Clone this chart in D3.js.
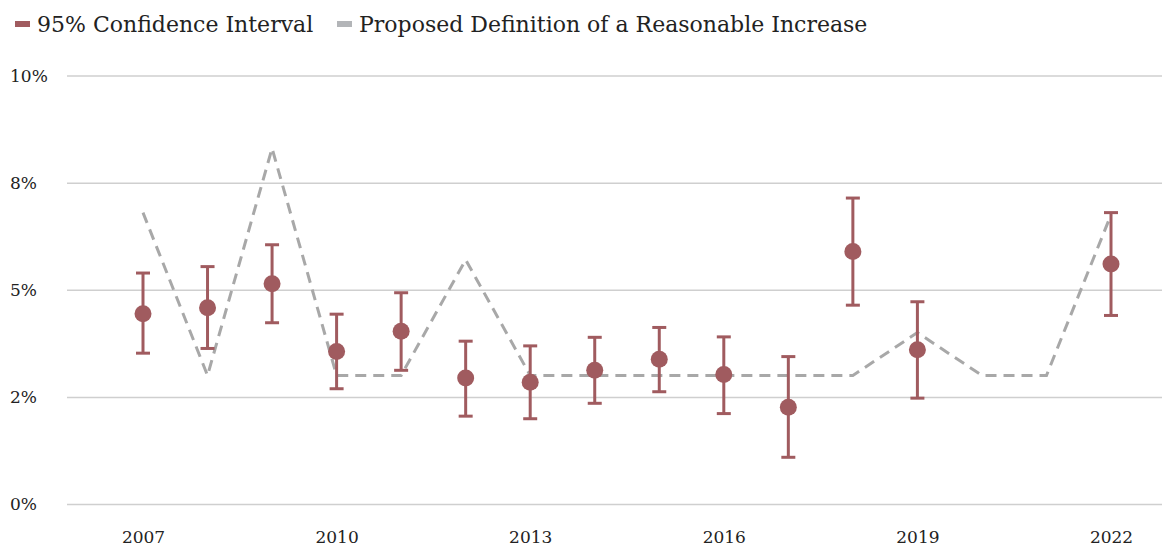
<!DOCTYPE html>
<html>
<head>
<meta charset="utf-8">
<script src="https://cdn.jsdelivr.net/npm/d3@7"></script>
<style>
  html, body { margin: 0; padding: 0; background: #fff; }
  svg { display: block; }
  text { font-family: "DejaVu Serif", serif; fill: #222; }
</style>
</head>
<body>
<svg id="chart" width="1162" height="548"></svg>
<script>
// Survey years
const years = [2007, 2008, 2009, 2010, 2011, 2012, 2013, 2014, 2015, 2016, 2017, 2018, 2019, 2020, 2021, 2022];
// Point estimate and 95% confidence bounds (percent); null where no estimate
const estimate = [4.44, 4.58, 5.14, 3.56, 4.03, 2.94, 2.84, 3.12, 3.38, 3.02, 2.26, 5.89, 3.60, null, null, 5.60];
const lower    = [3.52, 3.63, 4.23, 2.69, 3.12, 2.05, 1.99, 2.35, 2.62, 2.11, 1.09, 4.64, 2.47, null, null, 4.40];
const upper    = [5.39, 5.54, 6.05, 4.43, 4.93, 3.80, 3.69, 3.89, 4.12, 3.90, 3.44, 7.14, 4.72, null, null, 6.80];
// Proposed definition of a reasonable increase (percent)
const proposed = [6.8, 3.0, 8.3, 3.0, 3.0, 5.7, 3.0, 3.0, 3.0, 3.0, 3.0, 3.0, 4.0, 3.0, 3.0, 6.75];
// Axis ticks
const yTickValues = [0, 2.5, 5, 7.5, 10];
const yTickLabels = ["0%", "2%", "5%", "8%", "10%"];
const xTickYears = [2007, 2010, 2013, 2016, 2019, 2022];
const legendLabels = ["95% Confidence Interval", "Proposed Definition of a Reasonable Increase"];

const W = 1162, H = 548;
const gridLeft = 67, gridRight = W;
const firstX = 143, lastX = 1111;
const yTop = 75.5, yBottom = 504;

const red = "#a05b5f";
const gray = "#a8a8a8";

const svg = d3.select("#chart");

const x = d3.scalePoint().domain(years).range([firstX, lastX]);
const y = d3.scaleLinear().domain([0, 10]).range([yBottom, yTop]);

// Horizontal gridlines with labels on the left
const yAxis = d3.axisLeft(y)
  .tickValues(yTickValues)
  .tickSize(-(gridRight - gridLeft))
  .tickFormat((d, i) => yTickLabels[i]);
const gy = svg.append("g").attr("transform", `translate(${gridLeft},0)`).call(yAxis);
gy.select(".domain").remove();
gy.selectAll(".tick line").attr("stroke", "#cfcfcf").attr("stroke-width", 1.5);
gy.selectAll(".tick text")
  .attr("x", 10 - gridLeft)
  .attr("text-anchor", "start")
  .attr("dy", "0.35em")
  .style("font-size", "17px")
  .style("font-family", "'DejaVu Serif', serif")
  .attr("fill", "#222");

// Year labels
const xAxis = d3.axisBottom(x).tickValues(xTickYears).tickSize(0).tickFormat(d3.format("d"));
const gx = svg.append("g").attr("transform", `translate(0,${yBottom})`).call(xAxis);
gx.select(".domain").remove();
gx.selectAll(".tick text")
  .attr("y", 33)
  .attr("dy", "0.35em")
  .style("font-size", "17px")
  .style("font-family", "'DejaVu Serif', serif")
  .attr("fill", "#222");

// Proposed definition: dashed line
const line = d3.line().x((d, i) => x(years[i])).y(d => y(d));
svg.append("path")
  .datum(proposed)
  .attr("d", line)
  .attr("fill", "none")
  .attr("stroke", gray)
  .attr("stroke-width", 3)
  .attr("stroke-dasharray", "11,7");

// Confidence intervals
const rows = years.map((yr, i) => ({ yr, est: estimate[i], lo: lower[i], hi: upper[i] }))
  .filter(d => d.est !== null);
const capW = 7;
const g = svg.append("g").attr("stroke", red).attr("stroke-width", 3).attr("fill", "none");
g.selectAll("line.stem").data(rows).join("line")
  .attr("class", "stem")
  .attr("x1", d => x(d.yr)).attr("x2", d => x(d.yr))
  .attr("y1", d => y(d.lo)).attr("y2", d => y(d.hi));
g.selectAll("line.capTop").data(rows).join("line")
  .attr("class", "capTop")
  .attr("x1", d => x(d.yr) - capW).attr("x2", d => x(d.yr) + capW)
  .attr("y1", d => y(d.hi)).attr("y2", d => y(d.hi));
g.selectAll("line.capBot").data(rows).join("line")
  .attr("class", "capBot")
  .attr("x1", d => x(d.yr) - capW).attr("x2", d => x(d.yr) + capW)
  .attr("y1", d => y(d.lo)).attr("y2", d => y(d.lo));
svg.append("g").selectAll("circle").data(rows).join("circle")
  .attr("cx", d => x(d.yr)).attr("cy", d => y(d.est))
  .attr("r", 8.5)
  .attr("fill", red);

// Legend
const legend = svg.append("g");
const items = [
  { label: legendLabels[0], color: red, x: 15 },
  { label: legendLabels[1], color: "#b3b5b8", x: 337 }
];
items.forEach(it => {
  legend.append("rect").attr("x", it.x).attr("y", 21).attr("width", 15).attr("height", 6).attr("fill", it.color);
  legend.append("text").attr("x", it.x + 22).attr("y", 24).attr("dy", "0.35em")
    .style("font-size", "22px").text(it.label);
});
</script>
</body>
</html>
